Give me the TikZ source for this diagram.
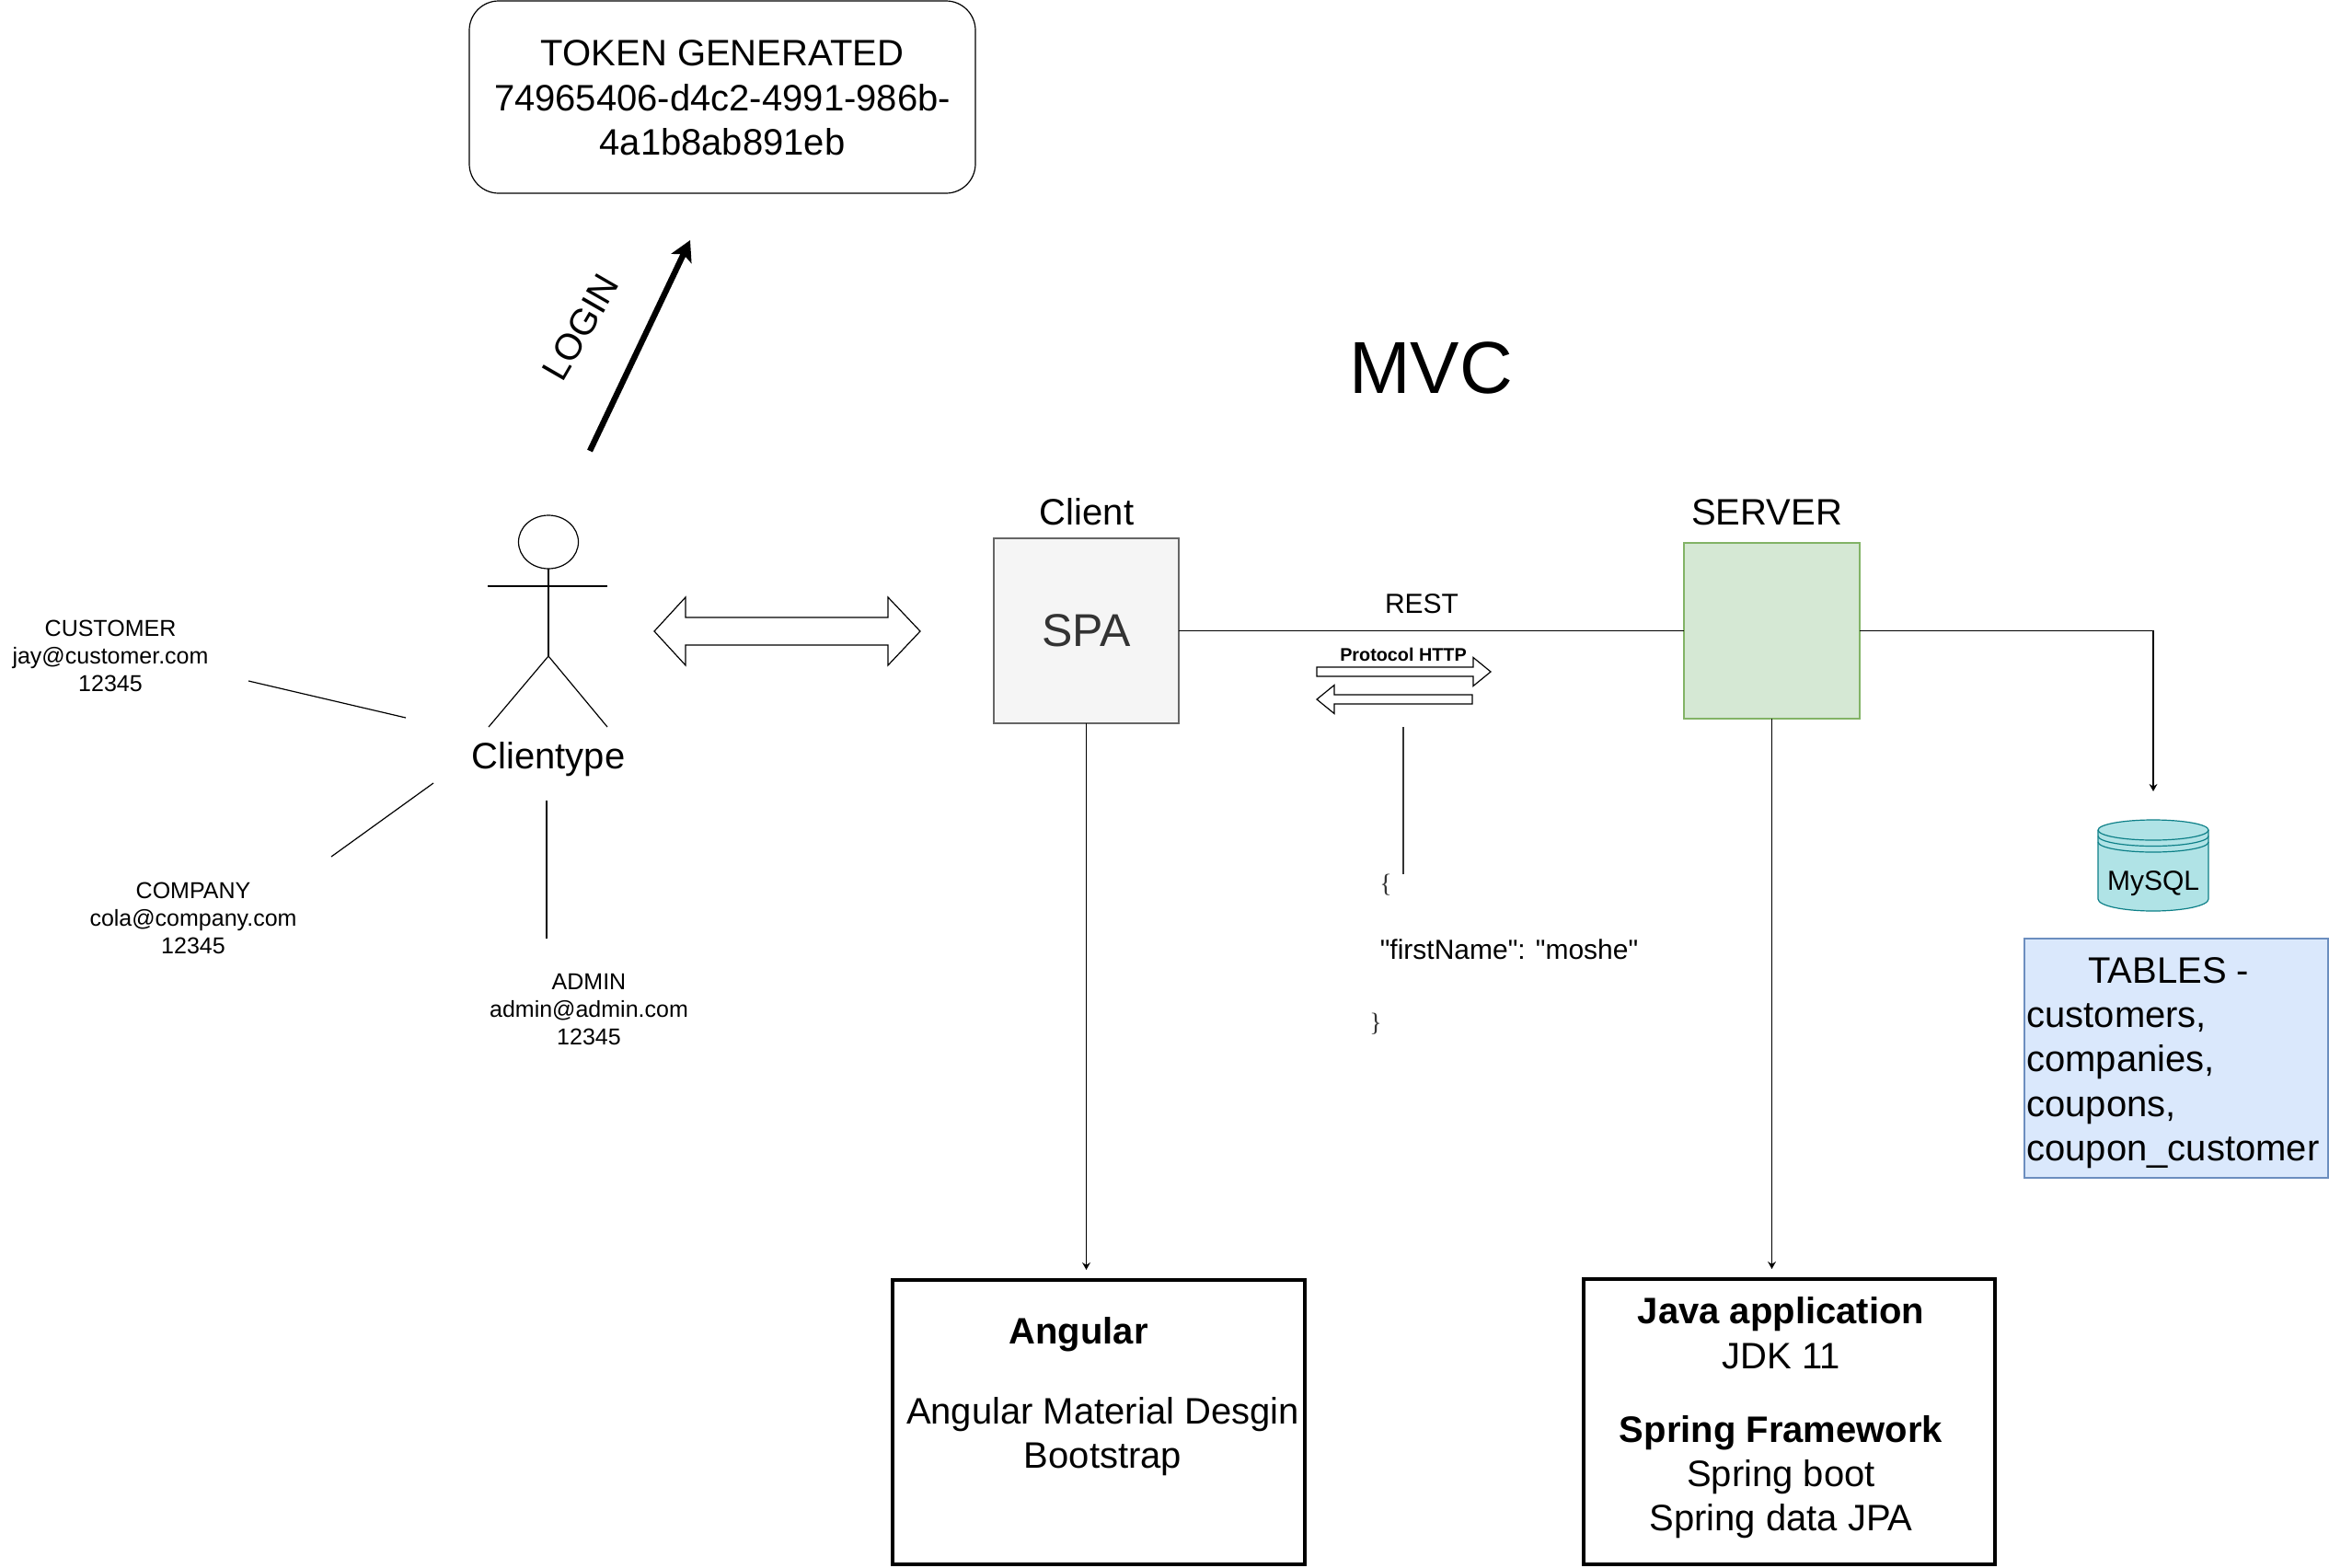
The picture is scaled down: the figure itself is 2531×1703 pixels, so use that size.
\documentclass[tikz,border=0pt]{standalone}
\usepackage{fontspec}
\setmainfont{Liberation Sans}
\newfontfamily\bracefont{Liberation Serif}
\newfontfamily\plainq{Liberation Sans}
\usetikzlibrary{arrows.meta,shapes.geometric}
\definecolor{spafill}{HTML}{F5F5F5}
\definecolor{spaline}{HTML}{666666}
\definecolor{spatext}{HTML}{333333}
\definecolor{srvfill}{HTML}{D5E8D4}
\definecolor{srvline}{HTML}{82B366}
\definecolor{dbfill}{HTML}{B0E3E6}
\definecolor{dbline}{HTML}{0E8088}
\definecolor{tabfill}{HTML}{DAE8FC}
\definecolor{tabline}{HTML}{6C8EBF}
\newcommand\fz[2]{\fontsize{#1}{#2}\selectfont}
\tikzset{
  thinline/.style={line width=0.6pt,black},
  thinarrow/.style={thinline,-{Stealth[length=4pt,width=4.4pt]}},
  txt/.style={inner sep=0pt,align=center,text=black},
  big/.style={txt,font=\fz{20}{24.2}},
  mid/.style={txt,font=\fz{15}{18}},
  small/.style={txt,font=\fz{12.5}{15}},
  boxnode/.style={inner sep=0pt,outer sep=0pt,draw,align=center},
  heavybox/.style={boxnode,draw=black,line width=2pt,fill=white},
  blockarrow/.style={draw=black,line width=0.6pt,fill=white,line join=miter},
}
\begin{document}
\begin{tikzpicture}[x=0.5pt,y=-0.5pt]
\useasboundingbox (0,0) rectangle (2531,1703);
% Token box
\node[boxnode,big,draw=black,line width=0.6pt,rounded corners=16pt,minimum width=275pt,minimum height=104.5pt] (token) at (785,105.5) {};
\node[big] (tokentext) at (785,106.5) {TOKEN GENERATED\\74965406-d4c2-4991-986b-\\4a1b8ab891eb};
% Login
\coordinate (loginstart) at (641,490);
\coordinate (logintip) at (750,261);
\draw[line width=3.2pt,-{Stealth[length=11pt,width=12pt,inset=2.5pt]}] (loginstart) -- (logintip);
\node[big,rotate=60] (login) at (631,356) {LOGIN};
% MVC
\node[txt,font=\fz{40}{48}] (mvc) at (1555,400) {MVC};
% Actor
\node[draw=black,line width=0.6pt,ellipse,inner sep=0pt,minimum width=32.5pt,minimum height=29pt,outer sep=0pt] (head) at (596,589) {};
\coordinate (hip) at (596,713);
\coordinate (armL) at (530,637);
\coordinate (armR) at (660,637);
\coordinate (legL) at (531,790);
\coordinate (legR) at (660,790);
\draw[thinline] (head.south) -- (hip);
\draw[thinline] (armL) -- (armR);
\draw[thinline] (legL) -- (hip) -- (legR);
\node[big] (clientype) at (596,825) {Clientype};
% Client-type lines
\coordinate (c1a) at (270,740); \coordinate (c1b) at (441,780);
\coordinate (c2a) at (360,931); \coordinate (c2b) at (471,851);
\coordinate (c3a) at (594,870); \coordinate (c3b) at (594,1020);
\draw[thinline] (c1a) -- (c1b);
\draw[thinline] (c2a) -- (c2b);
\draw[thinline] (c3a) -- (c3b);
\node[small] (customer) at (120,712.5) {CUSTOMER\\jay@customer.com\\12345};
\node[small] (company) at (210,997.5) {COMPANY\\cola@company.com\\12345};
\node[small] (admin) at (640,1097.5) {ADMIN\\admin@admin.com\\12345};
% Double block arrow
\draw[blockarrow] (711,686) -- (745,649) -- (745,671) -- (965,671) -- (965,649) -- (1000,686) -- (965,723) -- (965,701) -- (745,701) -- (745,723) -- cycle;
% Boxes
\node[boxnode,draw=spaline,fill=spafill,line width=0.6pt,minimum width=100.5pt,minimum height=100.5pt,text=spatext,font=\fz{25}{30}] (spa) at (1180.5,685.5) {SPA};
\node[boxnode,draw=srvline,fill=srvfill,line width=0.6pt,minimum width=95.5pt,minimum height=95.5pt] (server) at (1925.5,685.5) {};
\node[big] (clientlbl) at (1181,556) {Client};
\node[big] (serverlbl) at (1920,557) {SERVER};
\node[heavybox,minimum width=224pt,minimum height=154.5pt] (angular) at (1194,1545.5) {};
\node[heavybox,minimum width=223.5pt,minimum height=155pt] (java) at (1944.5,1545) {};
\node[big,font=\fz{20}{24.2}\bfseries] (angulartitle) at (1172,1450) {Angular};
\node[big] (angulartext) at (1198.5,1561) {Angular Material Desgin\\Bootstrap};
\node[big] (javatext) at (1935.5,1541) {\textbf{Java application}\\JDK 11\\[15.8pt]\textbf{Spring Framework}\\Spring boot\\Spring data JPA};
% Connectors
\coordinate (spadrop) at (spa.south |- angular.north);
\coordinate (serverdrop) at (server.south |- java.north);
\draw[thinline] (spa) -- (server);
\draw[thinarrow,shorten >=5.5pt] (spa.south) -- (spadrop);
\draw[thinarrow,shorten >=5.5pt] (server.south) -- (serverdrop);
\coordinate (dbtip) at (2340,860);
\draw[thinarrow] (server.east) -| (dbtip);
% REST
\node[mid] (rest) at (1545,656) {REST};
\node[txt,font=\fz{9.9}{12}\bfseries] (proto) at (1525,711) {Protocol HTTP};
\draw[blockarrow] (1431,725) -- (1601,725) -- (1601,714.5) -- (1620,730) -- (1601,745.5) -- (1601,735) -- (1431,735) -- cycle;
\draw[blockarrow] (1431,760) -- (1450,744.5) -- (1450,755) -- (1600,755) -- (1600,765) -- (1450,765) -- (1450,775.5) -- cycle;
\coordinate (jsonA) at (1525,790);
\coordinate (jsonB) at (1525,950);
\draw[line width=1pt,black!80] (jsonA) -- (jsonB);
\node[txt,font=\bracefont\fz{14}{16},text=black!80] (open) at (1506,962) {\{};
\node[mid,font=\plainq\fz{15}{18}] (first) at (1640,1031.5) {"firstName": "moshe"};
\node[txt,font=\bracefont\fz{14}{16},text=black!80] (close) at (1495,1113) {\}};
% MySQL
\draw[draw=dbline,fill=dbfill,line width=0.6pt] (2280,902) arc[start angle=180,end angle=0,x radius=30pt,y radius=5.5pt] -- (2400,977) arc[start angle=0,end angle=-180,x radius=30pt,y radius=6.5pt] -- cycle;
\draw[draw=dbline,line width=0.6pt] (2280,902) arc[start angle=180,end angle=360,x radius=30pt,y radius=5.5pt];
\draw[draw=dbline,line width=0.6pt] (2280,908.5) arc[start angle=180,end angle=360,x radius=30pt,y radius=5.5pt];
\draw[draw=dbline,line width=0.6pt] (2280,915) arc[start angle=180,end angle=360,x radius=30pt,y radius=5.5pt];
\node[mid] (mysql) at (2340,960) {MySQL};
% Tables
\node[boxnode,draw=tabline,fill=tabfill,line width=0.6pt,minimum width=165pt,minimum height=130pt] (tables) at (2365,1150) {};
\node[txt,align=left,anchor=west,font=\fz{20}{24.2}] (tablestext) at (2202,1155) {\hspace*{33.5pt}TABLES -\\customers,\\companies,\\coupons,\\coupon\_customer};
\end{tikzpicture}
\end{document}
